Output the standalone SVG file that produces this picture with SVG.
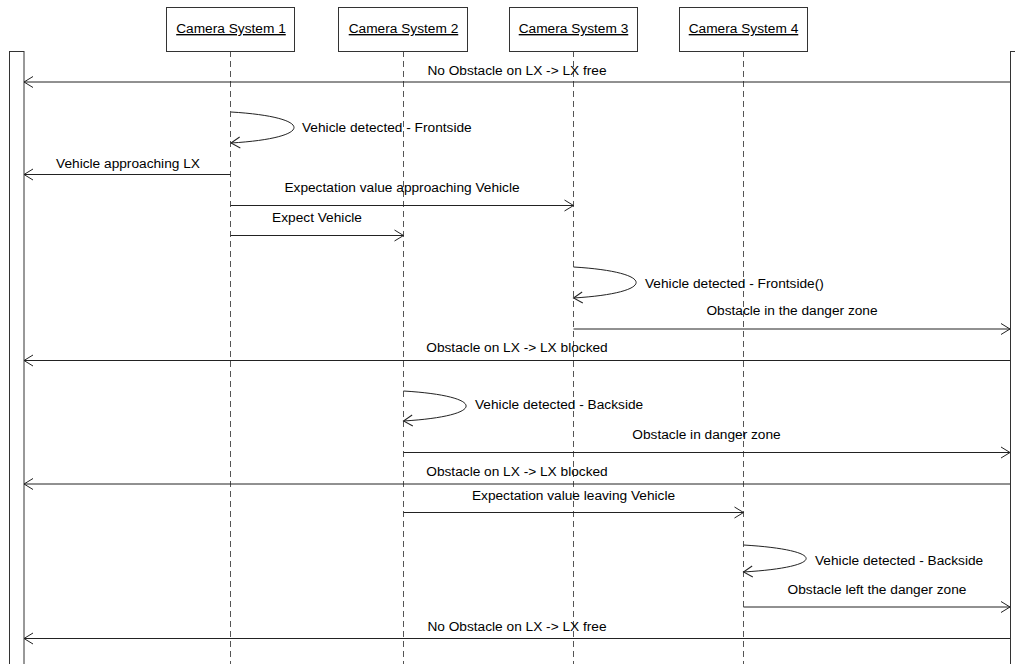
<svg xmlns="http://www.w3.org/2000/svg" width="1015" height="664" viewBox="0 0 1015 664">
<style>
text{font-family:"Liberation Sans",Arial,sans-serif;font-size:13.7px;fill:#000}
.box{fill:#fff;stroke:#333;stroke-width:1}
.life{stroke:#555;stroke-width:1;stroke-dasharray:6,4;fill:none}
.msg{stroke:#222;stroke-width:1;fill:none;marker-end:url(#arr)}
.bar{fill:#fff;stroke:#333;stroke-width:1}
.t{text-anchor:middle}
.u{text-decoration:underline}
</style>
<defs>
<marker id="arr" markerUnits="userSpaceOnUse" viewBox="-10 -7 12 14" refX="0" refY="0" markerWidth="12" markerHeight="14" orient="auto" overflow="visible">
<path d="M-9,-5.5 L0,0 L-9,5.5" fill="none" stroke="#222" stroke-width="1"/>
</marker>
</defs>
<rect width="1015" height="664" fill="#fff"/>
<g id="env-left"><rect class="bar" x="9.5" y="51.5" width="14.5" height="630"/></g>
<g id="env-right"><rect class="bar" x="1010.5" y="51.5" width="20" height="630"/></g>
<g id="cs1"><line class="life" x1="230.5" y1="51" x2="230.5" y2="664"/><rect class="box" x="166.5" y="7.5" width="128" height="44"/><text class="t u" x="231" y="33">Camera System 1</text></g>
<g id="cs2"><line class="life" x1="403.5" y1="51" x2="403.5" y2="664"/><rect class="box" x="338.5" y="7.5" width="129" height="44"/><text class="t u" x="403.5" y="33">Camera System 2</text></g>
<g id="cs3"><line class="life" x1="573.5" y1="51" x2="573.5" y2="664"/><rect class="box" x="509.5" y="7.5" width="128" height="44"/><text class="t u" x="573.5" y="33">Camera System 3</text></g>
<g id="cs4"><line class="life" x1="743.5" y1="51" x2="743.5" y2="664"/><rect class="box" x="679.5" y="7.5" width="128" height="44"/><text class="t u" x="743.5" y="33">Camera System 4</text></g>
<g id="connectors">
<line class="msg" x1="1010" y1="82" x2="24" y2="82"/>
<text class="t" x="517" y="75">No Obstacle on LX -&gt; LX free</text>
<path class="msg" d="M231,112 C315,117 315,138 231,143"/>
<text x="302" y="132">Vehicle detected - Frontside</text>
<line class="msg" x1="230.5" y1="174.5" x2="24" y2="174.5"/>
<text class="t" x="128" y="168">Vehicle approaching LX</text>
<line class="msg" x1="230.5" y1="205.5" x2="573.5" y2="205.5"/>
<text class="t" x="402" y="191.5">Expectation value approaching Vehicle</text>
<line class="msg" x1="230.5" y1="235.5" x2="403.5" y2="235.5"/>
<text class="t" x="317" y="222">Expect Vehicle</text>
<path class="msg" d="M573.5,267 C657,272 657,293 573.5,298"/>
<text x="645" y="287.5">Vehicle detected - Frontside()</text>
<line class="msg" x1="573.5" y1="329" x2="1010" y2="329"/>
<text class="t" x="792" y="315">Obstacle in the danger zone</text>
<line class="msg" x1="1010" y1="360.5" x2="24" y2="360.5"/>
<text class="t" x="517" y="352">Obstacle on LX -&gt; LX blocked</text>
<path class="msg" d="M403.5,391 C487,396 487,416 403.5,421"/>
<text x="475" y="408.5">Vehicle detected - Backside</text>
<line class="msg" x1="403.5" y1="452.5" x2="1010" y2="452.5"/>
<text class="t" x="706.5" y="439">Obstacle in danger zone</text>
<line class="msg" x1="1010" y1="484" x2="24" y2="484"/>
<text class="t" x="517" y="476">Obstacle on LX -&gt; LX blocked</text>
<line class="msg" x1="403.5" y1="512.5" x2="743.5" y2="512.5"/>
<text class="t" x="573.5" y="499.5">Expectation value leaving Vehicle</text>
<path class="msg" d="M743.5,545 C827,550 827,567 743.5,572"/>
<text x="815" y="565">Vehicle detected - Backside</text>
<line class="msg" x1="743.5" y1="607" x2="1010" y2="607"/>
<text class="t" x="877" y="593.5">Obstacle left the danger zone</text>
<line class="msg" x1="1010" y1="638.5" x2="24" y2="638.5"/>
<text class="t" x="517" y="631">No Obstacle on LX -&gt; LX free</text>
</g>
</svg>
